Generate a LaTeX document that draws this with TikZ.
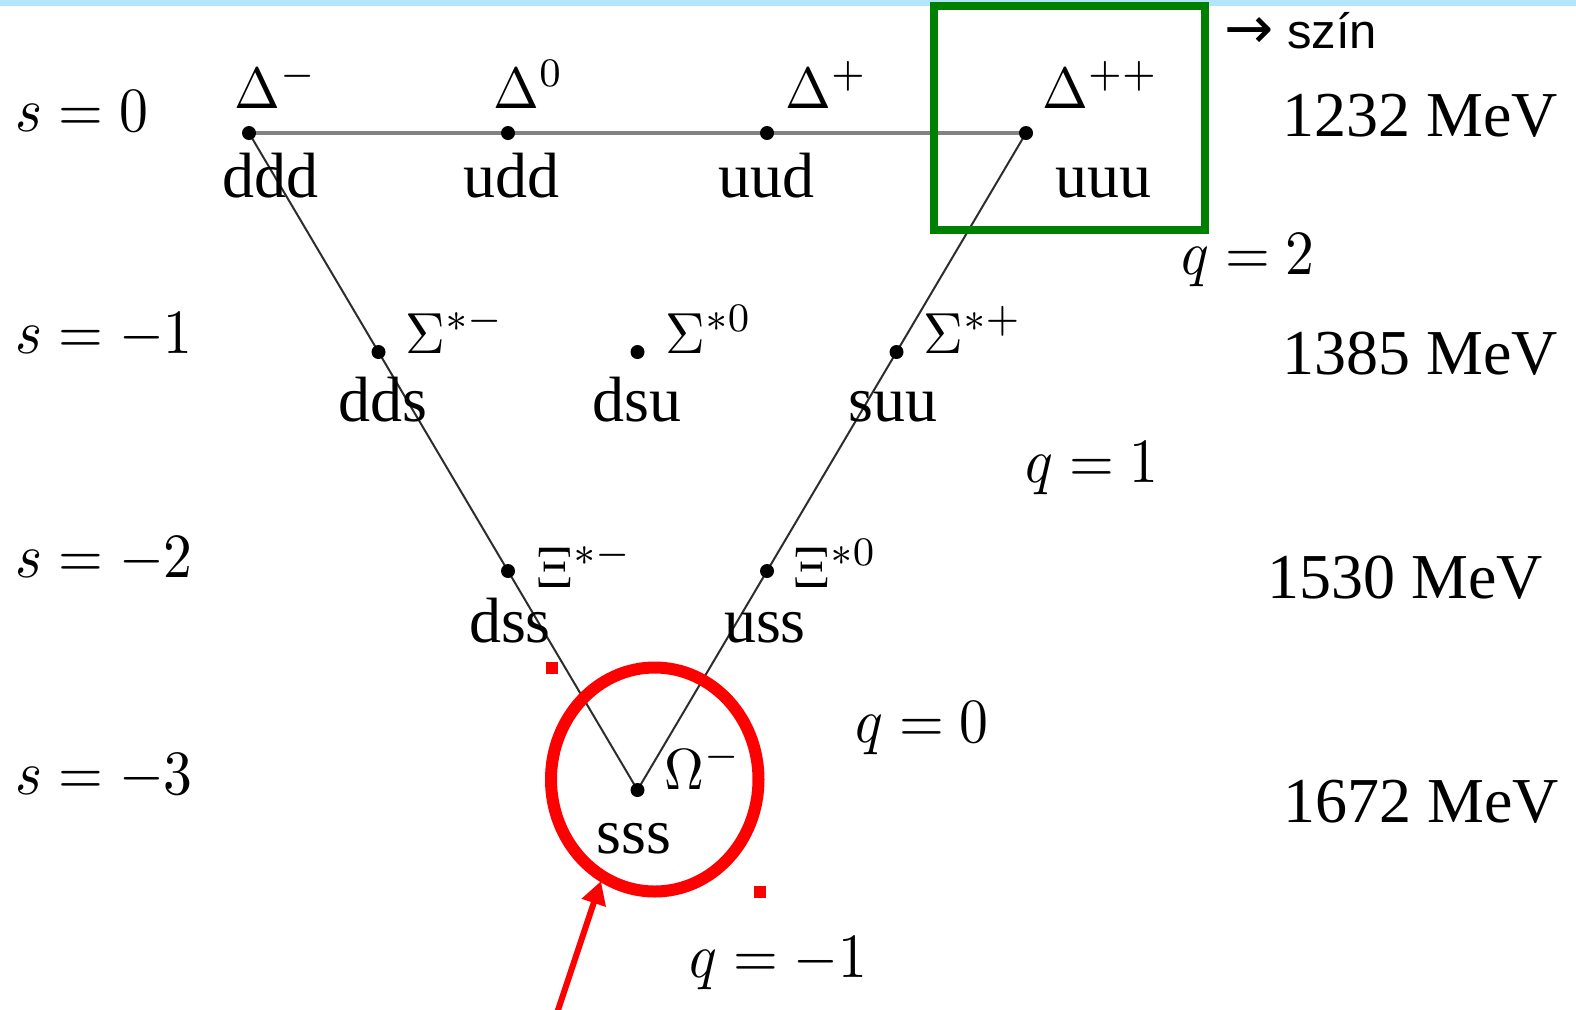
\RequirePackage{fix-cm}
\documentclass[tikz,border=0pt]{standalone}
\usepackage[no-math]{fontspec}
\usepackage{graphicx}
\newfontfamily\qfont{Liberation Serif}
\newfontfamily\sfont{Liberation Sans}
\newfontfamily\arrfont{DejaVu Sans}
\usetikzlibrary{arrows.meta,backgrounds}
\definecolor{topband}{RGB}{179,229,252}
\definecolor{boxgreen}{RGB}{0,128,0}
\definecolor{hlred}{RGB}{255,0,0}
\definecolor{topline}{RGB}{130,130,130}
\definecolor{sideline}{RGB}{45,45,45}
\newcommand{\glab}[1]{\scalebox{2.75}[2.9]{$#1$}}
\newcommand{\alab}[1]{\scalebox{2.88}[3.15]{$#1$}}
\begin{document}
\begin{tikzpicture}[x=0.5pt,y=-0.5pt,
  dot/.style={circle,fill=black,inner sep=0pt,minimum size=7pt},
  quark/.style={font=\qfont\fontsize{32}{38}\selectfont,inner sep=0pt,anchor=base},
  greek/.style={font=\fontsize{10}{12}\selectfont,inner sep=0pt,anchor=base west},
  axislab/.style={font=\fontsize{10}{12}\selectfont,inner sep=0pt,anchor=base west},
  mass/.style={font=\qfont\fontsize{32}{38}\selectfont,inner sep=0pt,anchor=base west},
  note/.style={font=\sfont\fontsize{24.5}{30}\selectfont,inner sep=0pt,anchor=base west}]
\useasboundingbox (0,0) rectangle (1576,1009);
\fill[topband] (0,0) rectangle (1576,6);

% dots
\node[dot] (d1) at (249,133) {};
\node[dot] (d2) at (508,133) {};
\node[dot] (d3) at (767,133) {};
\node[dot] (d4) at (1026,133) {};
\node[dot] (s1) at (378.5,352) {};
\node[dot] (s2) at (637.5,352) {};
\node[dot] (s3) at (896.5,352) {};
\node[dot] (x1) at (508,571) {};
\node[dot] (x2) at (767,571) {};
\node[dot] (o1) at (637.5,790) {};

\begin{pgfonlayer}{background}
\draw[topline,line width=1.6pt] (d1.center) -- (d4.center);
\draw[sideline,line width=1pt] (d1.center) -- (o1.center) -- (d4.center);
\end{pgfonlayer}

% quark contents
\node[quark] (qddd) at (270,197) {ddd};
\node[quark] (qudd) at (511,197) {udd};
\node[quark] (quud) at (766,197) {uud};
\node[quark] (quuu) at (1103,197) {uuu};
\node[quark] (qdds) at (383,421) {dds};
\node[quark] (qdsu) at (637,421) {dsu};
\node[quark] (qsuu) at (893,421) {suu};
\node[quark] (qdss) at (510,642) {dss};
\node[quark] (quss) at (765,642) {uss};
\node[quark] (qsss) at (634,853) {sss};

% particle names
\node[greek] (gD1) at (234,108) {\glab{\Delta^-}};
\node[greek] (gD2) at (493,108) {\glab{\Delta^0}};
\node[greek] (gD3) at (785,108) {\glab{\Delta^+}};
\node[greek] (gD4) at (1042,108) {\glab{\Delta^{++}}};
\node[greek] (gS1) at (405,353) {\glab{\Sigma^{*-}}};
\node[greek] (gS2) at (665,353) {\glab{\Sigma^{*0}}};
\node[greek] (gS3) at (923,353) {\glab{\Sigma^{*+}}};
\node[greek] (gX1) at (536,587) {\glab{\Xi^{*-}}};
\node[greek] (gX2) at (793,587) {\glab{\Xi^{*0}}};
\node[greek] (gO1) at (664,789) {\glab{\Omega^-}};

% strangeness
\node[axislab] (sa) at (15,131) {\alab{s = 0}};
\node[axislab] (sb) at (15,353) {\alab{s = -1}};
\node[axislab] (sc) at (15,577) {\alab{s = -2}};
\node[axislab] (sd) at (15,794) {\alab{s = -3}};

% charge
\node[axislab] (qa) at (1181,274) {\alab{q = 2}};
\node[axislab] (qb) at (1025,482) {\alab{q = 1}};
\node[axislab] (qc) at (855,742) {\alab{q = 0}};
\node[axislab] (qd) at (689,977) {\alab{q = -1}};

% masses
\node[mass] (ma) at (1282,136) {1232 MeV};
\node[mass] (mb) at (1282,374) {1385 MeV};
\node[mass] (mc) at (1267,598) {1530 MeV};
\node[mass] (md) at (1283,822) {1672 MeV};

% note
\node[note] (szin) at (1224,48) {{\arrfont\scalebox{1.2}{→}} szín};

% highlights
\draw[boxgreen,line width=4pt] (934,5.5) rectangle (1205,230);
\draw[hlred,line width=6pt] (654.75,779.5) ellipse [x radius=103.75, y radius=112];
\fill[hlred] (545.5,661.5) rectangle (557.5,673.5);
\fill[hlred] (753.5,886) rectangle (765.5,898);
\coordinate (tail) at (556,1016);
\coordinate (tip) at (601,881);
\draw[hlred,line width=3pt,-{Triangle[length=11.5pt,width=12pt]}] (tail) -- (tip);
\end{tikzpicture}
\end{document}
